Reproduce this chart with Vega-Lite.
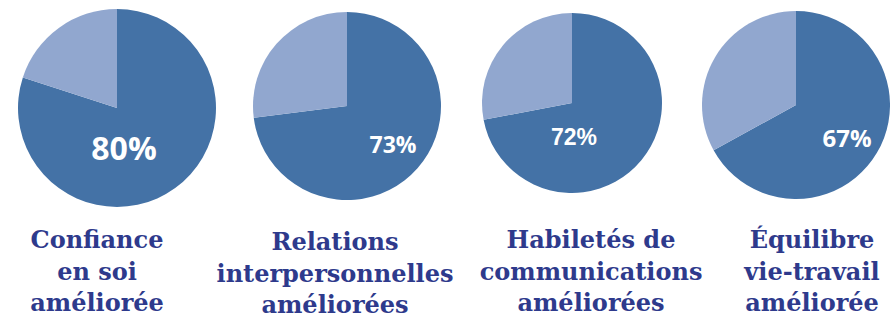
{
  "$schema": "https://vega.github.io/schema/vega-lite/v6.json",
  "padding": 0,
  "autosize": {"type": "pad"},
  "spacing": 18,
  "bounds": "flush",
  "background": "white",
  "config": {
    "view": {"stroke": null},
    "title": {"font": "DejaVu Serif", "fontWeight": "bold", "fontSize": 24, "color": "#2e3a8c", "lineHeight": 31.5, "orient": "bottom", "anchor": "middle", "baseline": "top"}
  },
  "datasets": {
    "pies": [
      {"item": "Confiance", "slice": "Amélioré", "value": 0.80},
      {"item": "Confiance", "slice": "Non", "value": 0.20},
      {"item": "Relations", "slice": "Amélioré", "value": 0.73},
      {"item": "Relations", "slice": "Non", "value": 0.27},
      {"item": "Habiletés", "slice": "Amélioré", "value": 0.72},
      {"item": "Habiletés", "slice": "Non", "value": 0.28},
      {"item": "Équilibre", "slice": "Amélioré", "value": 0.67},
      {"item": "Équilibre", "slice": "Non", "value": 0.33}
    ]
  },
  "hconcat": [
    {
      "width": 234, "height": 216,
      "data": {"name": "pies"},
      "transform": [{"filter": "datum.item === 'Confiance'"}],
      "title": {"text": ["Confiance", "en soi", "améliorée"], "dx": -20, "offset": 13},
      "layer": [
        {
          "mark": {"type": "arc", "outerRadius": 99},
          "encoding": {
            "theta": {"field": "value", "type": "quantitative", "stack": true},
            "order": {"field": "slice", "sort": "ascending"},
            "color": {"field": "slice", "type": "nominal", "scale": {"domain": ["Amélioré", "Non"], "range": ["#4472a6", "#91a7cf"]}, "legend": null}
          }
        },
        {
          "transform": [{"filter": "datum.slice === 'Amélioré'"}],
          "mark": {"type": "text", "font": "Open Sans", "fontWeight": "bold", "fontSize": 32, "fill": "white", "baseline": "middle", "align": "center", "dx": 7, "dy": 42},
          "encoding": {"text": {"field": "value", "type": "quantitative", "format": ".0%"}}
        }
      ]
    },
    {
      "width": 190, "height": 212,
      "data": {"name": "pies"},
      "transform": [{"filter": "datum.item === 'Relations'"}],
      "title": {"text": ["Relations", "interpersonnelles", "améliorées"], "dx": -12, "offset": 19},
      "layer": [
        {
          "mark": {"type": "arc", "outerRadius": 94},
          "encoding": {
            "theta": {"field": "value", "type": "quantitative", "stack": true},
            "order": {"field": "slice", "sort": "ascending"},
            "color": {"field": "slice", "type": "nominal", "scale": {"domain": ["Amélioré", "Non"], "range": ["#4472a6", "#91a7cf"]}, "legend": null}
          }
        },
        {
          "transform": [{"filter": "datum.slice === 'Amélioré'"}],
          "mark": {"type": "text", "font": "Open Sans", "fontWeight": "bold", "fontSize": 23, "fill": "white", "baseline": "middle", "align": "center", "dx": 46, "dy": 40},
          "encoding": {"text": {"field": "value", "type": "quantitative", "format": ".0%"}}
        }
      ]
    },
    {
      "width": 224, "height": 206,
      "data": {"name": "pies"},
      "transform": [{"filter": "datum.item === 'Habiletés'"}],
      "title": {"text": ["Habiletés de", "communications", "améliorées"], "dx": 19, "offset": 23},
      "layer": [
        {
          "mark": {"type": "arc", "outerRadius": 90},
          "encoding": {
            "theta": {"field": "value", "type": "quantitative", "stack": true},
            "order": {"field": "slice", "sort": "ascending"},
            "color": {"field": "slice", "type": "nominal", "scale": {"domain": ["Amélioré", "Non"], "range": ["#4472a6", "#91a7cf"]}, "legend": null}
          }
        },
        {
          "transform": [{"filter": "datum.slice === 'Amélioré'"}],
          "mark": {"type": "text", "font": "Liberation Sans", "fontWeight": "bold", "fontSize": 23, "fill": "white", "baseline": "middle", "align": "center", "dx": 2, "dy": 35},
          "encoding": {"text": {"field": "value", "type": "quantitative", "format": ".0%"}}
        }
      ]
    },
    {
      "width": 188, "height": 210,
      "data": {"name": "pies"},
      "transform": [{"filter": "datum.item === 'Équilibre'"}],
      "title": {"text": ["Équilibre", "vie-travail", "améliorée"], "dx": 16, "offset": 19},
      "layer": [
        {
          "mark": {"type": "arc", "outerRadius": 94},
          "encoding": {
            "theta": {"field": "value", "type": "quantitative", "stack": true},
            "order": {"field": "slice", "sort": "ascending"},
            "color": {"field": "slice", "type": "nominal", "scale": {"domain": ["Amélioré", "Non"], "range": ["#4472a6", "#91a7cf"]}, "legend": null}
          }
        },
        {
          "transform": [{"filter": "datum.slice === 'Amélioré'"}],
          "mark": {"type": "text", "font": "Open Sans", "fontWeight": "bold", "fontSize": 24, "fill": "white", "baseline": "middle", "align": "center", "dx": 51, "dy": 35},
          "encoding": {"text": {"field": "value", "type": "quantitative", "format": ".0%"}}
        }
      ]
    }
  ],
  "resolve": {"scale": {"color": "shared"}}
}
